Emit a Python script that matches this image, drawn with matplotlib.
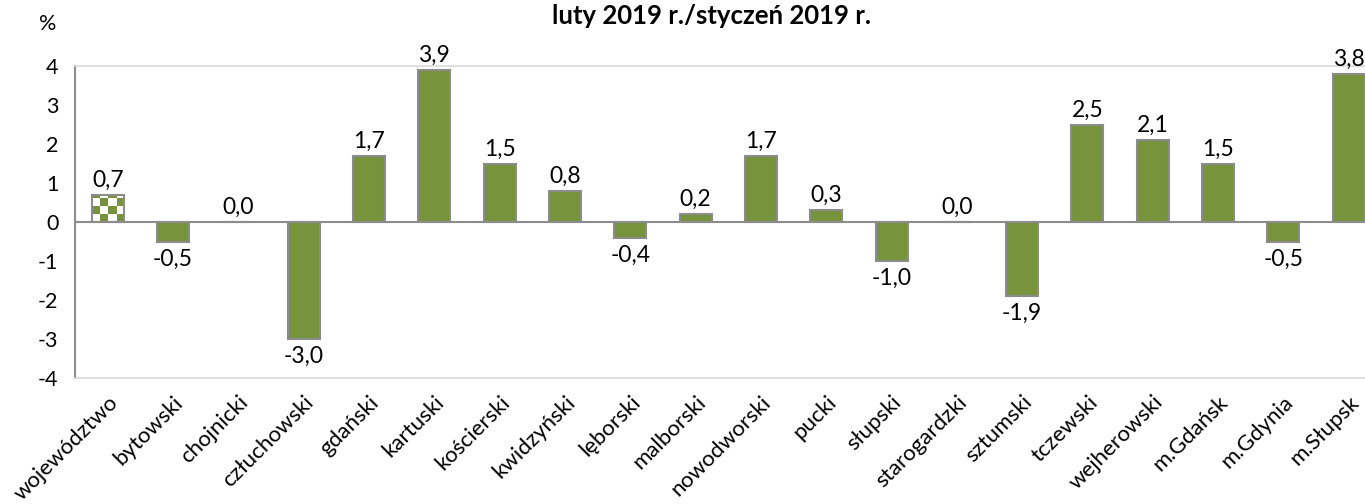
import numpy as np
import matplotlib
matplotlib.use('Agg')
import matplotlib.pyplot as plt

plt.rcParams['font.family'] = ['Lato', 'DejaVu Sans']
plt.rcParams['axes.unicode_minus'] = False

categories = ['województwo', 'bytowski', 'chojnicki', 'człuchowski', 'gdański', 'kartuski',
              'kościerski', 'kwidzyński', 'lęborski', 'malborski', 'nowodworski', 'pucki',
              'słupski', 'starogardzki', 'sztumski', 'tczewski', 'wejherowski', 'm.Gdańsk',
              'm.Gdynia', 'm.Słupsk']
values = [0.7, -0.5, 0.0, -3.0, 1.7, 3.9, 1.5, 0.8, -0.4, 0.2, 1.7, 0.3, -1.0, 0.0,
          -1.9, 2.5, 2.1, 1.5, -0.5, 3.8]
title = 'luty 2019 r./styczeń 2019 r.'

green = '#77933C'
edge = '#8C8C8C'

fig = plt.figure(figsize=(13.65, 5.04), dpi=100)
ax = fig.add_axes([0.055, 0.25, 0.957, 0.619])

x = np.arange(len(categories))
colors = ['none'] + [green] * (len(values) - 1)
bars = ax.bar(x, values, width=0.49, color=colors, edgecolor=edge, linewidth=1.5, zorder=3)

# checkered fill for the first bar (województwo)
b = bars[0]
x0, w, h = b.get_x(), b.get_width(), b.get_height()
ny, nx = 8, 4
checker = (np.indices((ny, nx)).sum(axis=0) % 2).astype(float)
cmap = matplotlib.colors.ListedColormap(['white', green])
im = ax.imshow(checker, cmap=cmap, extent=(x0, x0 + w, 0, h * 2.3), aspect='auto',
               interpolation='nearest', zorder=2.5, origin='lower')
im.set_clip_path(b)

ax.set_xlim(-0.5, len(categories) - 0.5)
ax.set_ylim(-4, 4)
ax.set_yticks(range(-4, 5))
ax.tick_params(axis='y', length=0, labelsize=15.5, pad=12)
ax.set_xticks(x)
ax.set_xticklabels(categories, rotation=45, ha='right', rotation_mode='anchor')
ax.tick_params(axis='x', length=0, labelsize=16, pad=10)

ax.axhline(0, color='#8C8C8C', linewidth=1.5, zorder=4)
ax.spines['left'].set_color('#8C8C8C')
ax.spines['left'].set_linewidth(1.5)
for s in ['top', 'bottom']:
    ax.spines[s].set_color('#D9D9D9')
    ax.spines[s].set_linewidth(1.2)
ax.spines['right'].set_visible(False)

for xi, v in zip(x, values):
    lab = f'{v:.1f}'.replace('.', ',')
    if v >= 0:
        ax.annotate(lab, (xi, v), xytext=(0, 3), textcoords='offset points',
                    ha='center', va='bottom', fontsize=16.5)
    else:
        ax.annotate(lab, (xi, v), xytext=(0, -5), textcoords='offset points',
                    ha='center', va='top', fontsize=16.5)

fig.text(0.5215, 0.993, title, ha='center', va='top', fontsize=18.5, fontweight='bold')
fig.text(0.035, 0.953, '%', ha='center', va='center', fontsize=15.5)

fig.savefig('out.png', dpi=100)
